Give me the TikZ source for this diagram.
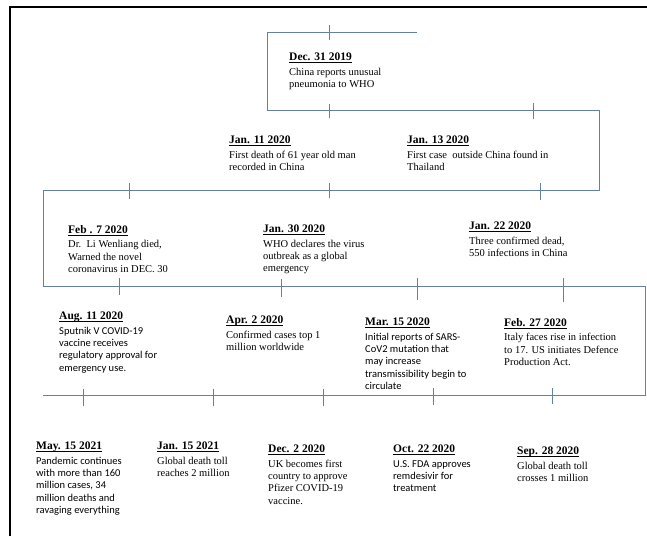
\documentclass[tikz,border=0pt]{standalone}
\usepackage{fontspec}
\setmainfont{Liberation Serif}
\newfontfamily\calfont{Carlito}
\definecolor{tlc}{RGB}{100,128,165}
\newcommand\ulfix[1]{\setbox0\hbox{#1}\dp0=0.3pt\relax\underline{\box0}}
\newcommand\hd[1]{{\fontsize{11.5}{12.5}\selectfont\rmfamily\bfseries\ulfix{#1}}\\[2.5pt]}
\begin{document}
\begin{tikzpicture}[x=1pt,y=-1pt,
  ev/.style={anchor=north west, inner sep=0pt, align=left, font=\fontsize{10.5}{12.2}\selectfont},
  evc/.style={anchor=north west, inner sep=0pt, align=left, font=\calfont\fontsize{10.5}{12.2}\selectfont},
  tline/.style={draw=tlc, line width=0.8pt},
  frame/.style={draw=black, line width=2pt}]
\useasboundingbox (0,0) rectangle (647,536);
\fill[white] (0,0) rectangle (647,536);
% frame
\coordinate (f1) at (10.3,536);
\coordinate (f2) at (10.3,7);
\coordinate (f3) at (647,7);
\draw[frame] (f1) -- (f2) -- (f3);
% timeline corners
\coordinate (p0) at (417,32);
\coordinate (p1) at (267,32);
\coordinate (p2) at (267,110);
\coordinate (p3) at (599,110);
\coordinate (p4) at (599,190);
\coordinate (p5) at (43,190);
\coordinate (p6) at (43,286);
\coordinate (p7) at (645,286);
\coordinate (p8) at (645,395);
\coordinate (p9) at (43,395);
\draw[tline] (p0) -- (p1) -- (p2) -- (p3) -- (p4) -- (p5) -- (p6) -- (p7) -- (p8) -- (p9);
% ticks
\foreach \x/\a/\b [count=\i] in {329/25/40, 329/104/118, 533/103/119, 129/183/199, 329/183/198, 540/183/200,
  119/278/295, 281/279/297, 417/278/300, 563/278/302,
  83/389/406, 213/389/406, 323/389/406, 433/388/405, 552/388/404}{
  \coordinate (ta\i) at (\x,\a);
  \coordinate (tb\i) at (\x,\b);
  \draw[tline] (ta\i) -- (tb\i);
}
% events
\node[ev] (e1) at (289,53) {\hd{Dec. 31 2019}China reports unusual\\pneumonia to WHO};
\node[ev] (e2) at (229,136) {\hd{Jan. 11 2020}First death of 61 year old man\\recorded in China};
\node[ev] (e3) at (407,136) {\hd{Jan. 13 2020}First case~~outside China found in\\Thailand};
\node[ev] (e4) at (68,225) {\hd{Feb . 7 2020}Dr.~~Li Wenliang died,\\Warned the novel\\coronavirus in DEC. 30};
\node[ev] (e5) at (263,225) {\hd{Jan. 30 2020}WHO declares the virus\\outbreak as a global\\emergency};
\node[ev] (e6) at (469,222) {\hd{Jan. 22 2020}Three confirmed dead,\\550 infections in China};
\node[evc] (e7) at (59,312) {\hd{Aug. 11 2020}Sputnik V COVID-19\\vaccine receives\\regulatory approval for\\emergency use.};
\node[ev] (e8) at (226,316) {\hd{Apr. 2 2020}Confirmed cases top 1\\million worldwide};
\node[evc] (e9) at (365,318) {\hd{Mar. 15 2020}Initial reports of SARS-\\CoV2 mutation that\\may increase\\transmissibility begin to\\circulate};
\node[ev] (e10) at (504,318) {\hd{Feb. 27 2020}Italy faces rise in infection\\to 17. US initiates Defence\\Production Act.};
\node[evc] (e11) at (36,442) {\hd{May. 15 2021}Pandemic continues\\with more than 160\\million cases, 34\\million deaths and\\ravaging everything};
\node[ev] (e12) at (157,442) {\hd{Jan. 15 2021}Global death toll\\reaches 2 million};
\node[ev] (e13) at (268,445) {\hd{Dec. 2 2020}UK becomes first\\country to approve\\Pfizer COVID-19\\vaccine.};
\node[evc] (e14) at (393,445) {\hd{Oct. 22 2020}U.S. FDA approves\\remdesivir for\\treatment};
\node[ev] (e15) at (517,447) {\hd{Sep. 28 2020}Global death toll\\crosses 1 million};
\end{tikzpicture}
\end{document}
